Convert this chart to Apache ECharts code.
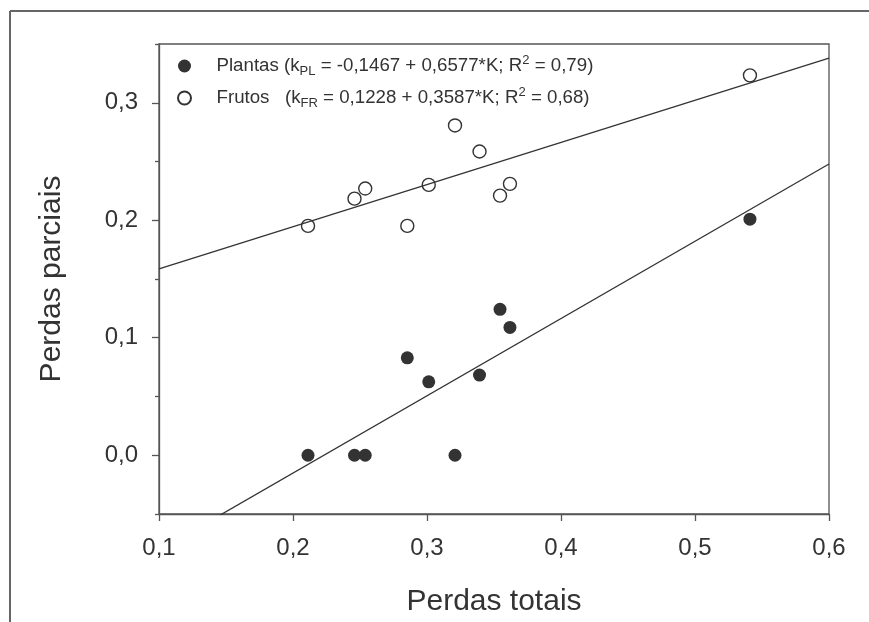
<!DOCTYPE html>
<html>
<head>
<meta charset="utf-8">
<script src="https://cdn.jsdelivr.net/npm/echarts@6/dist/echarts.min.js"></script>
<style>
  html, body { margin: 0; padding: 0; background: #fff; }
  #main { width: 869px; height: 622px; }
</style>
</head>
<body>
<div id="main"></div>
<script>
// perdas totais (x) and the two partial losses
const totais  = [0.2112, 0.2459, 0.2539, 0.2853, 0.3013, 0.3209, 0.3392, 0.3545, 0.3619, 0.5410];
const plantas = [0, 0, 0, 0.0829, 0.0625, 0, 0.0682, 0.1242, 0.1088, 0.2009];
const frutos  = [0.1952, 0.2184, 0.2270, 0.1952, 0.2301, 0.2807, 0.2585, 0.2210, 0.2310, 0.3233];

// regression coefficients [a, b] from the legend: k = a + b*K
const regPlantas = [-0.1467, 0.6577];
const regFrutos  = [0.1228, 0.3587];

const xRange = [0.1, 0.6];
const yMajor = [0, 0.1, 0.2, 0.3];
const yMinor = [-0.05, 0.05, 0.15, 0.25, 0.35];

const font = 'Liberation Sans, Arial, sans-serif';
const ink = '#333';
const axisColor = '#555';

let chart = echarts.init(document.getElementById('main'));

const comma = v => v.toFixed(1).replace('.', ',');
const pairs = ys => totais.map((x, i) => [x, ys[i]]);
const regLine = c => xRange.map(x => [x, c[0] + c[1] * x]);

const legendRich = {
    a: { fontSize: 18.7, fontFamily: font, color: ink, lineHeight: 24 },
    s: { fontSize: 13, fontFamily: font, color: ink, verticalAlign: 'bottom', lineHeight: 13 },
    p: { fontSize: 13, fontFamily: font, color: ink, verticalAlign: 'top', lineHeight: 13 }
};

let option = {
    animation: false,
    backgroundColor: '#fff',
    grid: {
        left: 159, right: 40, top: 44, bottom: 108,
        show: true, borderColor: axisColor, borderWidth: 1.3
    },
    legend: {
        orient: 'vertical',
        left: 177,
        top: 54,
        padding: 0,
        itemWidth: 54,
        itemHeight: 13,
        itemGap: 8,
        selectedMode: false,
        data: ['Plantas', 'Frutos'],
        formatter: name => name === 'Plantas'
            ? '{a|Plantas (k}{s|PL}{a| = -0,1467 + 0,6577*K; R}{p|2}{a| = 0,79)}'
            : '{a|Frutos   (k}{s|FR}{a| = 0,1228 + 0,3587*K; R}{p|2}{a| = 0,68)}',
        textStyle: { rich: legendRich }
    },
    xAxis: {
        type: 'value',
        min: xRange[0], max: xRange[1], interval: 0.1,
        name: 'Perdas totais',
        nameLocation: 'middle',
        nameGap: 73,
        nameTextStyle: { fontSize: 30, fontFamily: font, color: ink },
        axisLine: { onZero: false, lineStyle: { color: axisColor, width: 1.3 } },
        axisTick: { length: 7, lineStyle: { color: axisColor, width: 1.3 } },
        axisLabel: { fontSize: 24, fontFamily: font, color: ink, margin: 22, formatter: comma },
        splitLine: { show: false }
    },
    yAxis: [{
        type: 'value',
        min: -0.05, max: 0.35,
        name: 'Perdas parciais',
        nameLocation: 'middle',
        nameGap: 92,
        nameTextStyle: { fontSize: 30, fontFamily: font, color: ink },
        axisLine: { show: true, onZero: false, lineStyle: { color: axisColor, width: 1.3 } },
        axisTick: { show: true, length: 7, customValues: yMajor, lineStyle: { color: axisColor, width: 1.3 } },
        axisLabel: { fontSize: 24, fontFamily: font, color: ink, margin: 21, customValues: yMajor, formatter: comma },
        splitLine: { show: false }
    }, {
        type: 'value',
        position: 'left',
        min: -0.05, max: 0.35,
        axisLine: { show: false, onZero: false },
        axisTick: { show: true, length: 4, customValues: yMinor, lineStyle: { color: axisColor, width: 1.3 } },
        axisLabel: { show: false },
        splitLine: { show: false }
    }],
    graphic: [
        { type: 'line', shape: { x1: 10, y1: 11, x2: 869, y2: 11 }, style: { stroke: '#666', lineWidth: 2 } },
        { type: 'line', shape: { x1: 10, y1: 11, x2: 10, y2: 622 }, style: { stroke: '#666', lineWidth: 2 } }
    ],
    series: [{
        name: 'regPlantas',
        type: 'line',
        data: regLine(regPlantas),
        symbol: 'none',
        lineStyle: { color: ink, width: 1.3 },
        clip: true
    }, {
        name: 'regFrutos',
        type: 'line',
        data: regLine(regFrutos),
        symbol: 'none',
        lineStyle: { color: ink, width: 1.3 },
        clip: true
    }, {
        name: 'Plantas',
        type: 'scatter',
        data: pairs(plantas),
        symbolSize: 13,
        itemStyle: { color: ink, opacity: 1 }
    }, {
        name: 'Frutos',
        type: 'scatter',
        data: pairs(frutos),
        symbolSize: 13,
        itemStyle: { color: '#fff', borderColor: ink, borderWidth: 1.4, opacity: 1 }
    }]
};

chart.setOption(option);

window.onresize = () => {
    chart.resize();
};
</script>
</body>
</html>
